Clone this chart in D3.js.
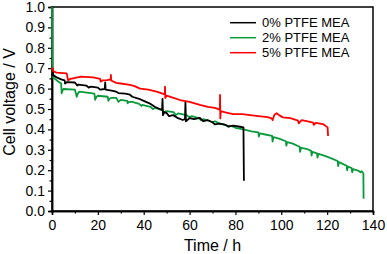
<!DOCTYPE html>
<html><head><meta charset="utf-8">
<script src="https://cdn.jsdelivr.net/npm/d3@7"></script>
<style>
body{margin:0;background:#fff;}
text{font-family:Arial,"Liberation Sans",sans-serif;}
</style></head>
<body><svg id="c" width="387" height="254"></svg>
<script>
const seriesNames = ["0% PTFE MEA","2% PTFE MEA","5% PTFE MEA"];
const seriesColors = ["#000000","#0a9a3c","#ff0000"];
const xTicks = [0,20,40,60,80,100,120,140];
const yTicks = [0.0,0.1,0.2,0.3,0.4,0.5,0.6,0.7,0.8,0.9,1.0];

const t0 = [0,0.3,0.6,2,4,5.5,5.7,6.5,10,11,11.5,15,16,17,20,21,23,23.2,23.4,26,28,29,32,34,35,38,40,43,45,47,48,48.2,48.4,49,50,51,52.8,55,57,58,58.2,58.4,60,62,64.5,66,68,70,71,73,75,77,79,82,83.5,83.7];
const v0 = [0.66,0.69,0.665,0.655,0.645,0.64,0.625,0.632,0.63,0.615,0.62,0.615,0.605,0.61,0.605,0.595,0.598,0.63,0.595,0.59,0.585,0.578,0.575,0.57,0.56,0.55,0.54,0.525,0.51,0.5,0.495,0.55,0.47,0.485,0.48,0.465,0.47,0.455,0.446,0.45,0.536,0.44,0.455,0.45,0.456,0.44,0.445,0.435,0.425,0.428,0.425,0.415,0.418,0.413,0.41,0.148];

const t2 = [0,0.2,1,2.7,4.0,4.2,4.6,5,10,10.8,11.2,12,18.5,18.8,19.3,20,24.3,24.6,25,26,28,29,30,32.8,33,33.5,35,38,39,39.3,43,44,45,48,49,50,53,54,55,58.7,60,61,64,65,66,67.5,70,71,73.3,76,77,78,80,83.4,87,90,90.2,90.6,93,96,96.2,96.6,99,102,102.2,102.6,105,108,108.2,108.6,111,113,113.2,113.6,115.6,115.8,116.2,119,121,124.6,124.8,125.2,127,128.5,128.7,129.1,130.7,130.9,131.3,133.5,134.5,135,135.8,135.9];
const v2 = [1.0,0.66,0.65,0.635,0.625,0.577,0.59,0.598,0.595,0.56,0.575,0.585,0.575,0.545,0.558,0.565,0.56,0.54,0.55,0.555,0.555,0.535,0.545,0.54,0.528,0.535,0.535,0.525,0.515,0.52,0.51,0.5,0.505,0.495,0.485,0.49,0.485,0.47,0.478,0.47,0.46,0.465,0.455,0.445,0.45,0.446,0.435,0.44,0.428,0.42,0.412,0.418,0.408,0.40,0.39,0.385,0.365,0.38,0.375,0.368,0.34,0.362,0.355,0.342,0.32,0.338,0.33,0.315,0.29,0.31,0.305,0.295,0.272,0.29,0.283,0.262,0.28,0.27,0.262,0.245,0.22,0.24,0.23,0.222,0.2,0.218,0.21,0.19,0.205,0.198,0.19,0.195,0.185,0.06];

const t5 = [0,0.3,0.6,2,6.4,7,8,10,12.2,14,18,21,21.2,22,24,25.6,25.7,25.8,28,30,34,36,38.4,42,45.6,49.2,49.3,49.4,50,53,55.8,60,64.5,68,71,73.2,73.3,73.4,73.6,76,79,83,86.4,90,94,95.8,96.2,97,98,99,100.7,104,107.3,107.6,108.9,111,113.9,114.2,115,118.2,120.2,120.4];
const v5 = [0.69,0.70,0.685,0.678,0.675,0.64,0.648,0.652,0.658,0.657,0.655,0.648,0.634,0.64,0.642,0.645,0.667,0.64,0.628,0.625,0.618,0.612,0.60,0.595,0.585,0.572,0.61,0.554,0.566,0.555,0.544,0.535,0.52,0.51,0.505,0.497,0.569,0.454,0.49,0.482,0.475,0.475,0.47,0.465,0.46,0.454,0.445,0.472,0.479,0.47,0.459,0.455,0.443,0.43,0.445,0.44,0.433,0.422,0.432,0.426,0.41,0.368];

const L=52, R=373, T=7, B=211;
const x = d3.scaleLinear().domain([0,140]).range([L,R]);
const y = d3.scaleLinear().domain([0,1]).range([B,T]);
const svg = d3.select("#c");

svg.append("rect").attr("x",L).attr("y",T).attr("width",R-L).attr("height",B-T)
  .attr("fill","none").attr("stroke","#000").attr("stroke-width",1.5);

const gx = svg.append("g").attr("transform",`translate(0,${B})`);
gx.call(d3.axisBottom(x).tickValues(d3.range(10,140,20)).tickSize(2.5).tickFormat(""));
const gxM = svg.append("g").attr("transform",`translate(0,${B})`);
gxM.call(d3.axisBottom(x).tickValues(xTicks).tickSize(4).tickPadding(5).tickFormat(d=>d));
const gy = svg.append("g").attr("transform",`translate(${L},0)`);
gy.call(d3.axisLeft(y).tickValues(d3.range(0.05,1,0.1)).tickSize(2.5).tickFormat(""));
const gyM = svg.append("g").attr("transform",`translate(${L},0)`);
gyM.call(d3.axisLeft(y).tickValues(yTicks).tickSize(4).tickPadding(3).tickFormat(d3.format(".1f")));
svg.selectAll(".domain").attr("stroke","#000").attr("stroke-width",1.5);
svg.selectAll(".tick line").attr("stroke","#000").attr("stroke-width",1.2);
svg.selectAll(".tick text").attr("font-size",14).attr("fill","#000")
  .attr("font-family",'Arial,"Liberation Sans",sans-serif');

const line = d3.line().x(d=>x(d[0])).y(d=>y(d[1]));
const data = [d3.zip(t0,v0), d3.zip(t2,v2), d3.zip(t5,v5)];
[1,0,2].forEach(i=>{
  svg.append("path").datum(data[i]).attr("d",line).attr("fill","none")
    .attr("stroke",seriesColors[i]).attr("stroke-width",1.8).attr("stroke-linejoin","round");
});

const lg = svg.append("g");
seriesNames.forEach((n,i)=>{
  const yy = 22.7 + i*15;
  lg.append("line").attr("x1",230).attr("x2",256).attr("y1",yy).attr("y2",yy)
    .attr("stroke",seriesColors[i]).attr("stroke-width",1.5);
  lg.append("text").attr("x",262).attr("y",yy).attr("dy","0.35em")
    .attr("font-size",13).text(n);
});

svg.append("text").attr("x",(L+R)/2).attr("y",251).attr("text-anchor","middle")
  .attr("font-size",16).text("Time / h");
svg.append("text").attr("transform","translate(15,102) rotate(-90)").attr("text-anchor","middle")
  .attr("font-size",16).text("Cell voltage / V");
</script></body></html>
